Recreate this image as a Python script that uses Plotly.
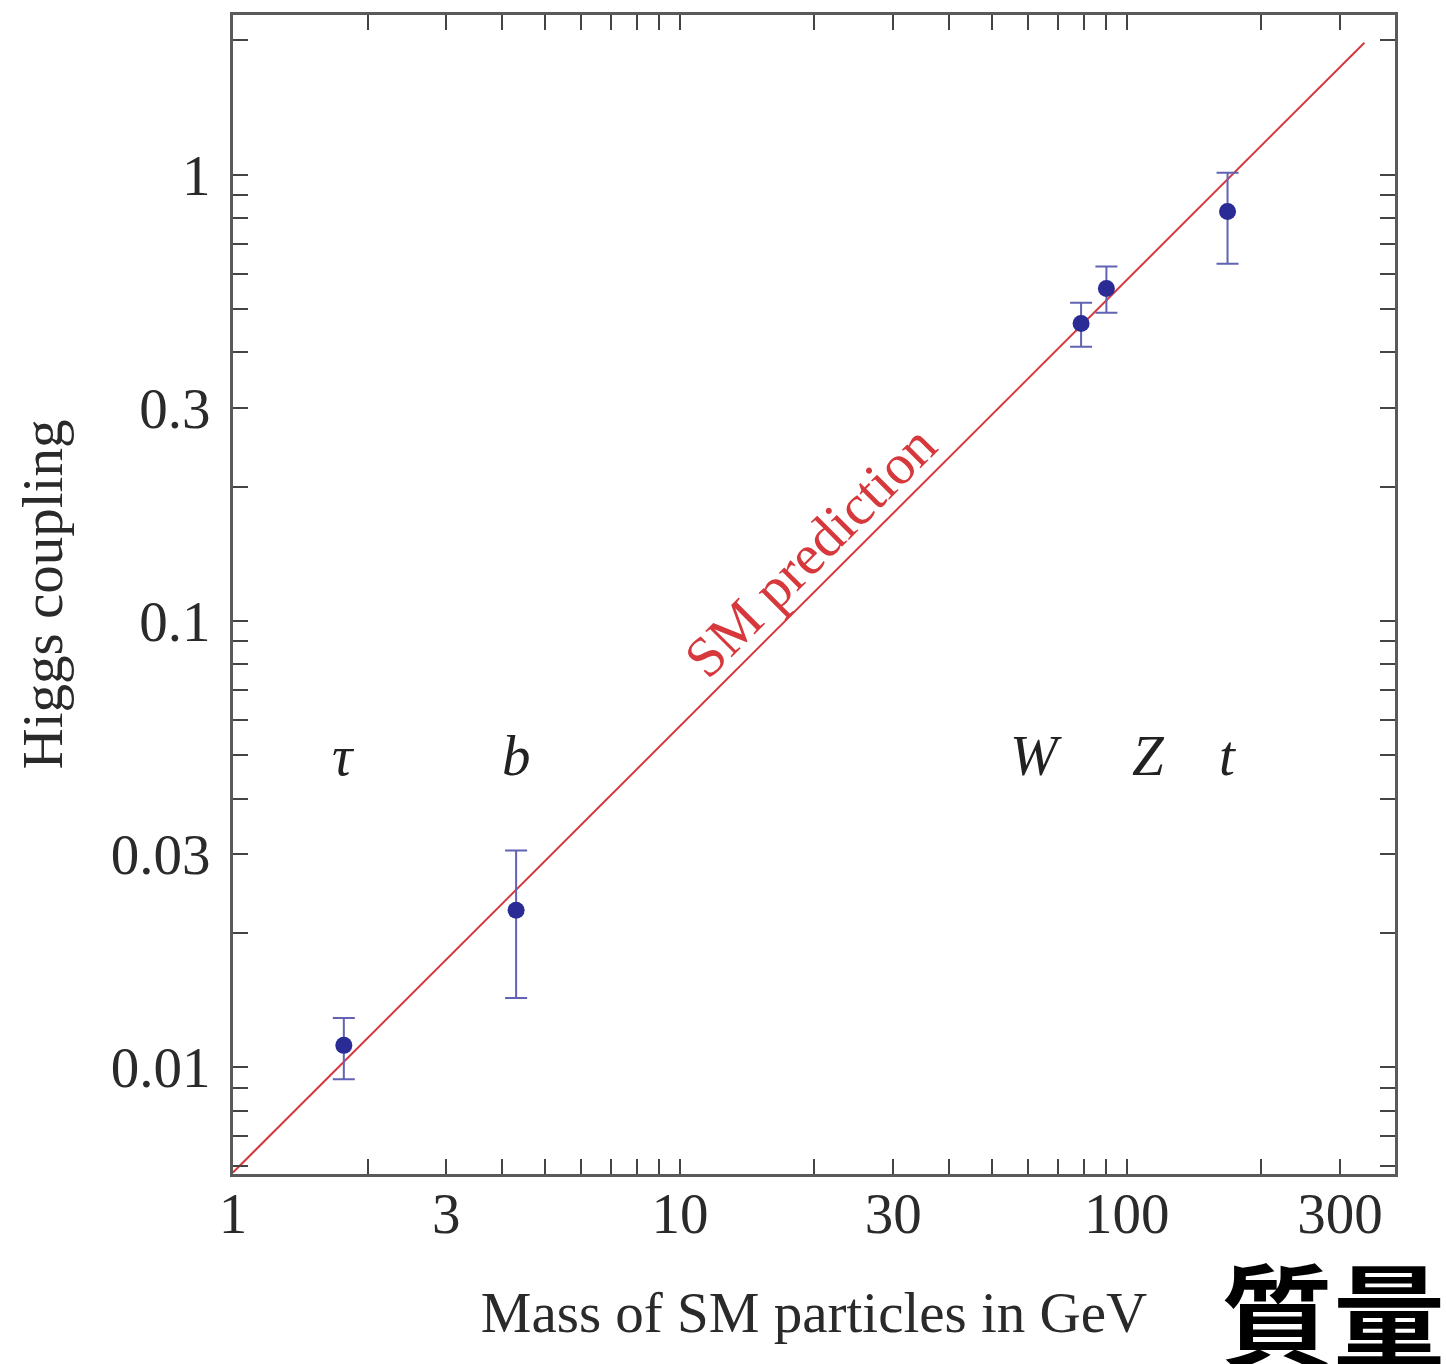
import plotly.graph_objects as go
import numpy as np

# ---- data ----
particles = ["τ", "b", "W", "Z", "t"]
mass = [1.77, 4.3, 79.0, 90.0, 168.0]
coupling = [0.0112, 0.0225, 0.464, 0.556, 0.827]
err_plus = [0.0017, 0.0081, 0.053, 0.067, 0.183]
err_minus = [0.0018, 0.0082, 0.052, 0.065, 0.195]

label_mass = [1.77, 4.3, 62.5, 112.0, 168.0]
label_coupling = [0.05, 0.05, 0.05, 0.05, 0.05]

sm_mass = [1.0, 340.0]
sm_scale = 172.0  # coupling = mass / sm_scale
sm_coupling = [m / sm_scale for m in sm_mass]

x_tickvals = [1, 2, 3, 4, 5, 6, 7, 8, 9, 10, 20, 30, 40, 50, 60, 70, 80, 90, 100, 200, 300]
x_ticklabels = {1: "1", 3: "3", 10: "10", 30: "30", 100: "100", 300: "300"}
y_tickvals = [0.006, 0.007, 0.008, 0.009, 0.01, 0.02, 0.03, 0.04, 0.05, 0.06, 0.07, 0.08, 0.09,
              0.1, 0.2, 0.3, 0.4, 0.5, 0.6, 0.7, 0.8, 0.9, 1, 2]
y_ticklabels = {0.01: "0.01", 0.03: "0.03", 0.1: "0.1", 0.3: "0.3", 1: "1"}

serif = "Liberation Serif, Times New Roman, serif"
FS = 57

fig = go.Figure()

fig.add_trace(go.Scatter(
    x=sm_mass, y=sm_coupling, mode="lines",
    line=dict(color="#d6383c", width=2), showlegend=False, hoverinfo="skip"))

fig.add_trace(go.Scatter(
    x=mass, y=coupling, mode="markers",
    marker=dict(color="#2b2b95", size=17),
    error_y=dict(type="data", symmetric=False, array=err_plus, arrayminus=err_minus,
                 color="#6262b4", thickness=2, width=11),
    showlegend=False))

for lx, ly, name in zip(label_mass, label_coupling, particles):
    fig.add_annotation(x=np.log10(lx), y=np.log10(ly), xref="x", yref="y", text=f"<i>{name}</i>",
                       showarrow=False, font=dict(family=serif, size=FS, color="#222"))

# SM prediction label along the line
fig.add_annotation(x=np.log10(19.5), y=np.log10(0.1435), xref="x", yref="y",
                   text="SM prediction", showarrow=False, textangle=-45,
                   font=dict(family=serif, size=FS, color="#d6383c"))

# big CJK text
fig.add_annotation(x=(1333 - 233) / 1162, y=(1174 - 1310) / 1161, xref="paper", yref="paper",
                   xanchor="center", yanchor="middle",
                   text="<b>質量</b>", showarrow=False,
                   font=dict(family="Noto Sans CJK JP", size=112, color="#000"))

axis_common = dict(
    type="log", showgrid=False, zeroline=False, showline=True, linecolor="#5a5a5a",
    linewidth=3, mirror="allticks", ticks="inside", ticklen=15, tickwidth=2, tickcolor="#444",
    tickfont=dict(family=serif, size=FS, color="#2a2a2a"),
)

fig.update_xaxes(**axis_common, range=[0, 2.6], tickmode="array", tickvals=x_tickvals,
                 ticktext=[x_ticklabels.get(v, "") for v in x_tickvals],
                 ticklabelstandoff=-12,
                 title=dict(text="Mass of SM particles in GeV", standoff=48,
                            font=dict(family=serif, size=FS, color="#2a2a2a")))
fig.update_yaxes(**axis_common, range=[-2.239, 0.358], tickmode="array", tickvals=y_tickvals,
                 ticktext=[y_ticklabels.get(v, "") for v in y_tickvals],
                 ticklabelstandoff=8,
                 title=dict(text="Higgs coupling", standoff=30,
                            font=dict(family=serif, size=FS, color="#2a2a2a")))

fig.update_layout(width=1446, height=1364, margin=dict(l=233, r=51, t=13, b=190),
                  plot_bgcolor="white", paper_bgcolor="white")

fig.write_html("out.html")
